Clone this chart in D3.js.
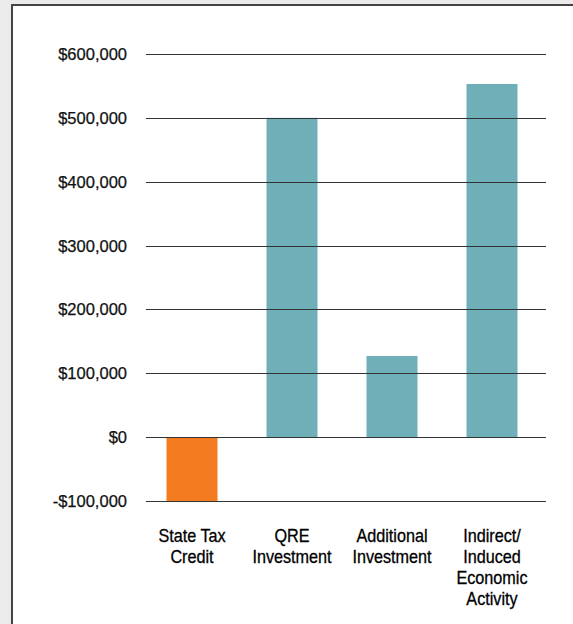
<!DOCTYPE html>
<html>
<head>
<meta charset="utf-8">
<script src="https://cdn.jsdelivr.net/npm/d3@7"></script>
<style>
  body { margin: 0; background: #ebebeb; }
  svg { display: block; }
</style>
</head>
<body>
<div id="chart"></div>
<script>
// Dimensions
const width = 573, height = 624;

// Data
const categories = [
    ["State Tax", "Credit"],
    ["QRE", "Investment"],
    ["Additional", "Investment"],
    ["Indirect/", "Induced", "Economic", "Activity"]
];
const values = [-100000, 500000, 127000, 553000];
const barColors = ["#f47b20", "#6fafb8", "#6fafb8", "#6fafb8"];
const tickValues = [-100000, 0, 100000, 200000, 300000, 400000, 500000, 600000];

const svg = d3.select("#chart")
    .append("svg")
    .attr("width", width)
    .attr("height", height);

// White panel with dark border
svg.append("rect")
    .attr("x", 12)
    .attr("y", 5)
    .attr("width", width)
    .attr("height", height)
    .attr("fill", "#fff")
    .attr("stroke", "#444")
    .attr("stroke-width", 2);

// Scales
const keys = categories.map(d => d.join(" "));
const xScale = d3.scaleBand()
    .domain(keys)
    .range([142, 542])
    .paddingInner(0.49)
    .paddingOuter(0.245);

const yScale = d3.scaleLinear()
    .domain([-100000, 600000])
    .range([501, 54]);

const fmt = v => (v < 0 ? "-$" : "$") + d3.format(",")(Math.abs(v));

// Bars
svg.selectAll(".bar")
    .data(values)
    .enter()
    .append("rect")
    .attr("class", "bar")
    .attr("x", (d, i) => xScale(keys[i]))
    .attr("y", d => yScale(Math.max(0, d)))
    .attr("width", xScale.bandwidth())
    .attr("height", d => Math.abs(yScale(d) - yScale(0)))
    .attr("fill", (d, i) => barColors[i]);

// Y axis: gridlines drawn over bars, labels to the left
const yAxis = svg.append("g")
    .attr("transform", "translate(146,0.5)")
    .call(d3.axisLeft(yScale)
        .tickValues(tickValues)
        .tickSize(-400)
        .tickPadding(19)
        .tickFormat(fmt));

yAxis.select(".domain").remove();
yAxis.selectAll(".tick").attr("transform", d => `translate(0,${Math.round(yScale(d))})`);
yAxis.selectAll(".tick line")
    .attr("stroke", "#333")
    .attr("stroke-width", 1);
yAxis.selectAll(".tick text")
    .attr("fill", "#111")
    .attr("stroke", "#111")
    .attr("stroke-width", 0.25)
    .style("font-family", "'Liberation Sans', Arial, sans-serif")
    .style("font-size", "16.5px");

// Category labels (condensed look)
const labels = svg.append("g")
    .selectAll("text")
    .data(categories)
    .enter()
    .append("text")
    .attr("text-anchor", "middle")
    .attr("fill", "#000")
    .attr("stroke", "#000")
    .attr("stroke-width", 0.3)
    .style("font-family", "'Liberation Sans', Arial, sans-serif")
    .style("font-size", "18px")
    .attr("transform", (d, i) => `translate(${xScale(keys[i]) + xScale.bandwidth() / 2},542) scale(0.9,1)`);

labels.selectAll("tspan")
    .data(d => d)
    .enter()
    .append("tspan")
    .attr("x", 0)
    .attr("dy", (d, i) => i === 0 ? 0 : 21)
    .text(d => d);
</script>
</body>
</html>
